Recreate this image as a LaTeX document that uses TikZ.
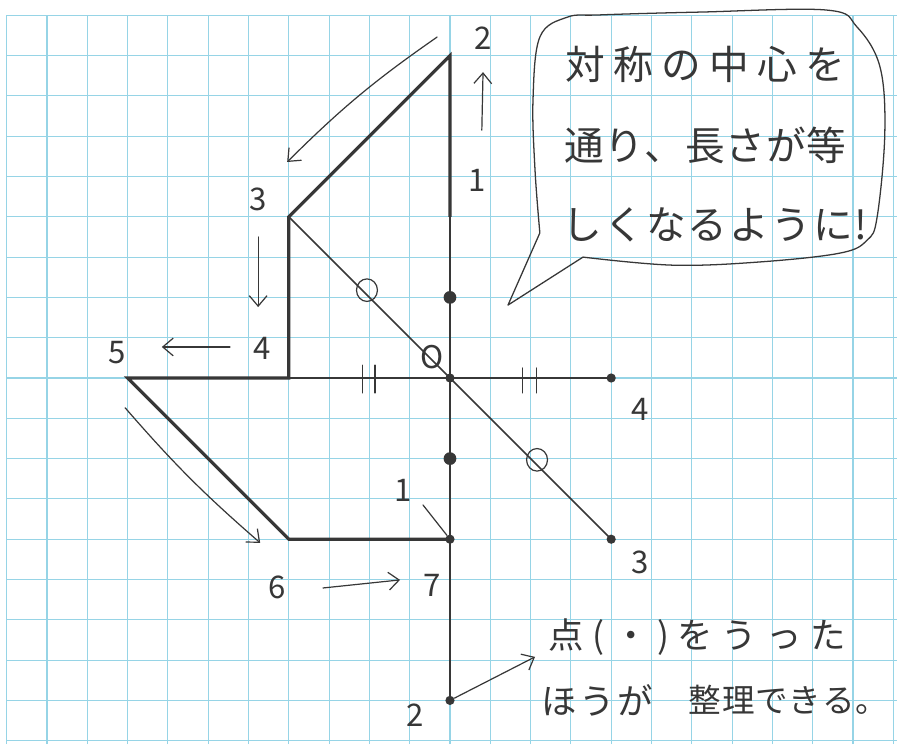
\documentclass[tikz,border=0pt]{standalone}
\usepackage{fontspec}
\setmainfont{Noto Sans CJK JP}
\usetikzlibrary{arrows.meta}
\definecolor{gridblue}{RGB}{150,212,230}
\definecolor{ink}{RGB}{55,55,55}
\begin{document}
\begin{tikzpicture}[
  gridline/.style={gridblue, line width=0.8pt},
  thinline/.style={ink, line width=1.1pt},
  thickline/.style={ink, line width=2.2pt, line join=miter},
  handline/.style={ink, line width=0.85pt, line cap=round},
  handarrow/.style={handline, -{Straight Barb[length=2.6mm,width=4.4mm]}},
  num/.style={ink, inner sep=0pt, font=\fontsize{22}{24}\selectfont},
  jp/.style={ink, inner sep=0pt, font=\fontsize{28}{30}\selectfont},
  jpb/.style={ink, inner sep=0pt, font=\fontsize{25}{27}\selectfont},
  jpc/.style={ink, inner sep=0pt, font=\fontsize{23}{25}\selectfont},
  dotsmall/.style={circle, fill=ink, inner sep=0pt, minimum size=6.5pt},
  dotbig/.style={circle, fill=ink, inner sep=0pt, minimum size=9pt},
]
\useasboundingbox (-11.166,-9.082) rectangle (11.092,9.380);
\fill[white] (-11.166,-9.082) rectangle (11.092,9.380);
% grid paper
\foreach \x in {-11,...,11} \draw[gridline] (\x,-9.082) -- (\x,9);
\foreach \y in {-9,...,9} \draw[gridline] (-11,\y) -- (11.092,\y);

% points
\coordinate (O) at (0,0);
\coordinate (T2) at (0,8);
\coordinate (A) at (0,4);
\coordinate (P3) at (-4,4);
\coordinate (P4) at (-4,0);
\coordinate (P5) at (-8,0);
\coordinate (P6) at (-4,-4);
\coordinate (P7) at (0,-4);
\coordinate (B2) at (0,-8);
\coordinate (Q4) at (4,0);
\coordinate (Q3) at (4,-4);

% construction lines (thin)
\draw[thinline] (A) -- (B2);
\draw[thinline] (P4) -- (Q4);
\draw[thinline] (P3) -- (Q3);

% the figure (thick)
\draw[thickline] (A) -- (T2) -- (P3) -- (P4) -- (P5) -- (P6) -- (P7);

% dots
\node[dotsmall] (dO) at (O) {};
\node[dotsmall] (dQ4) at (Q4) {};
\node[dotsmall] (dQ3) at (Q3) {};
\node[dotsmall] (dP7) at (P7) {};
\node[dotsmall] (dB2) at (B2) {};
\node[dotbig] (dU) at (0,2) {};
\node[dotbig] (dD) at (0,-2) {};

% equal-length marks
\draw[handline] (-2.06,2.18) ellipse (0.26 and 0.28);
\draw[handline] (2.16,-2.03) ellipse (0.26 and 0.28);
\draw[handline] (-2.18,0.32) -- (-2.18,-0.37);
\draw[handline] (-1.86,0.32) -- (-1.86,-0.37);
\draw[handline] (1.80,0.25) -- (1.80,-0.37);
\draw[handline] (2.15,0.25) -- (2.15,-0.37);

% labels
\node[num] (lT2) at (0.82,8.44) {2};
\node[num] (lA1) at (0.67,4.91) {1};
\node[num] (lP3) at (-4.76,4.42) {3};
\node[num] (lP4) at (-4.67,0.74) {4};
\node[num] (lP5) at (-8.26,0.62) {5};
\node[num] (lP6) at (-4.29,-5.19) {6};
\node[num] (lP7) at (-0.45,-5.14) {7};
\node[num] (lC1) at (-1.17,-2.78) {1};
\node[num] (lB2) at (-0.87,-8.36) {2};
\node[num] (lQ4) at (4.71,-0.79) {4};
\node[num] (lQ3) at (4.71,-4.57) {3};
\node[num] (lO) at (-0.45,0.52) {O};

% handwritten arrows
\coordinate (a1s) at (-0.32,8.46); \coordinate (a1e) at (-4.04,5.36);
\draw[handarrow] (a1s) to[bend right=5] (a1e);
\coordinate (a2s) at (-4.76,3.50); \coordinate (a2e) at (-4.76,1.76);
\draw[handarrow] (a2s) -- (a2e);
\coordinate (a3s) at (-5.46,0.77); \coordinate (a3e) at (-7.15,0.77);
\draw[handarrow] (a3s) -- (a3e);
\coordinate (a4s) at (-8.06,-0.74); \coordinate (a4e) at (-4.71,-4.09);
\draw[handarrow] (a4s) to[bend right=4] (a4e);
\coordinate (a5s) at (-3.15,-5.21); \coordinate (a5e) at (-1.24,-5.01);
\draw[handarrow] (a5s) -- (a5e);
\coordinate (a6s) at (0.79,6.15); \coordinate (a6e) at (0.82,7.59);
\draw[handarrow] (a6s) -- (a6e);
\coordinate (a7e) at (2.11,-6.92);
\draw[handarrow] (dB2) -- (a7e);
\coordinate (a8s) at (-0.67,-3.15);
\draw[handline] (a8s) -- (dP7);

% speech bubble
\coordinate (tip) at (1.44,1.81);
\draw[ink, line width=0.9pt, line join=round]
  plot[smooth, tension=0.6] coordinates {(2.23,3.60) (2.11,5.16) (2.06,6.90) (2.23,8.46) (2.9,8.95) (3.72,9.01) (6.20,9.08) (9.35,9.13) (10.10,8.71) (10.67,7.72) (10.79,6.08) (10.60,4.00) (10.35,3.42) (9.68,3.10) (7.69,2.88) (5.53,2.80) (3.30,3.00)}
  -- (tip) -- cycle;
\node[jp] (b1) at (6.33,7.77) {\makebox[6.95cm][s]{対\hfil 称\hfil の\hfil 中\hfil 心\hfil を}};
\node[jp] (b2) at (6.33,5.78) {\makebox[7.0cm][s]{通\hfil り\hfil 、\hfil 長\hfil さ\hfil が\hfil 等}};
\node[jp] (b3) at (6.58,3.80) {\makebox[7.57cm][s]{し\hfil く\hfil な\hfil る\hfil よ\hfil う\hfil に\hfil !}};

% bottom note
\node[jpb] (n1) at (6.13,-6.43) {\makebox[7.37cm][s]{点\hfil (\hfil ・\hfil )\hfil を\hfil う\hfil っ\hfil た}};
\node[jpb] (n2) at (3.65,-7.99) {\makebox[2.75cm][s]{ほ\hfil う\hfil が}};
\node[jpc] (n3) at (8.40,-7.99) {\makebox[4.95cm][s]{整\hfil 理\hfil で\hfil き\hfil る\hfil 。}};
\end{tikzpicture}
\end{document}
